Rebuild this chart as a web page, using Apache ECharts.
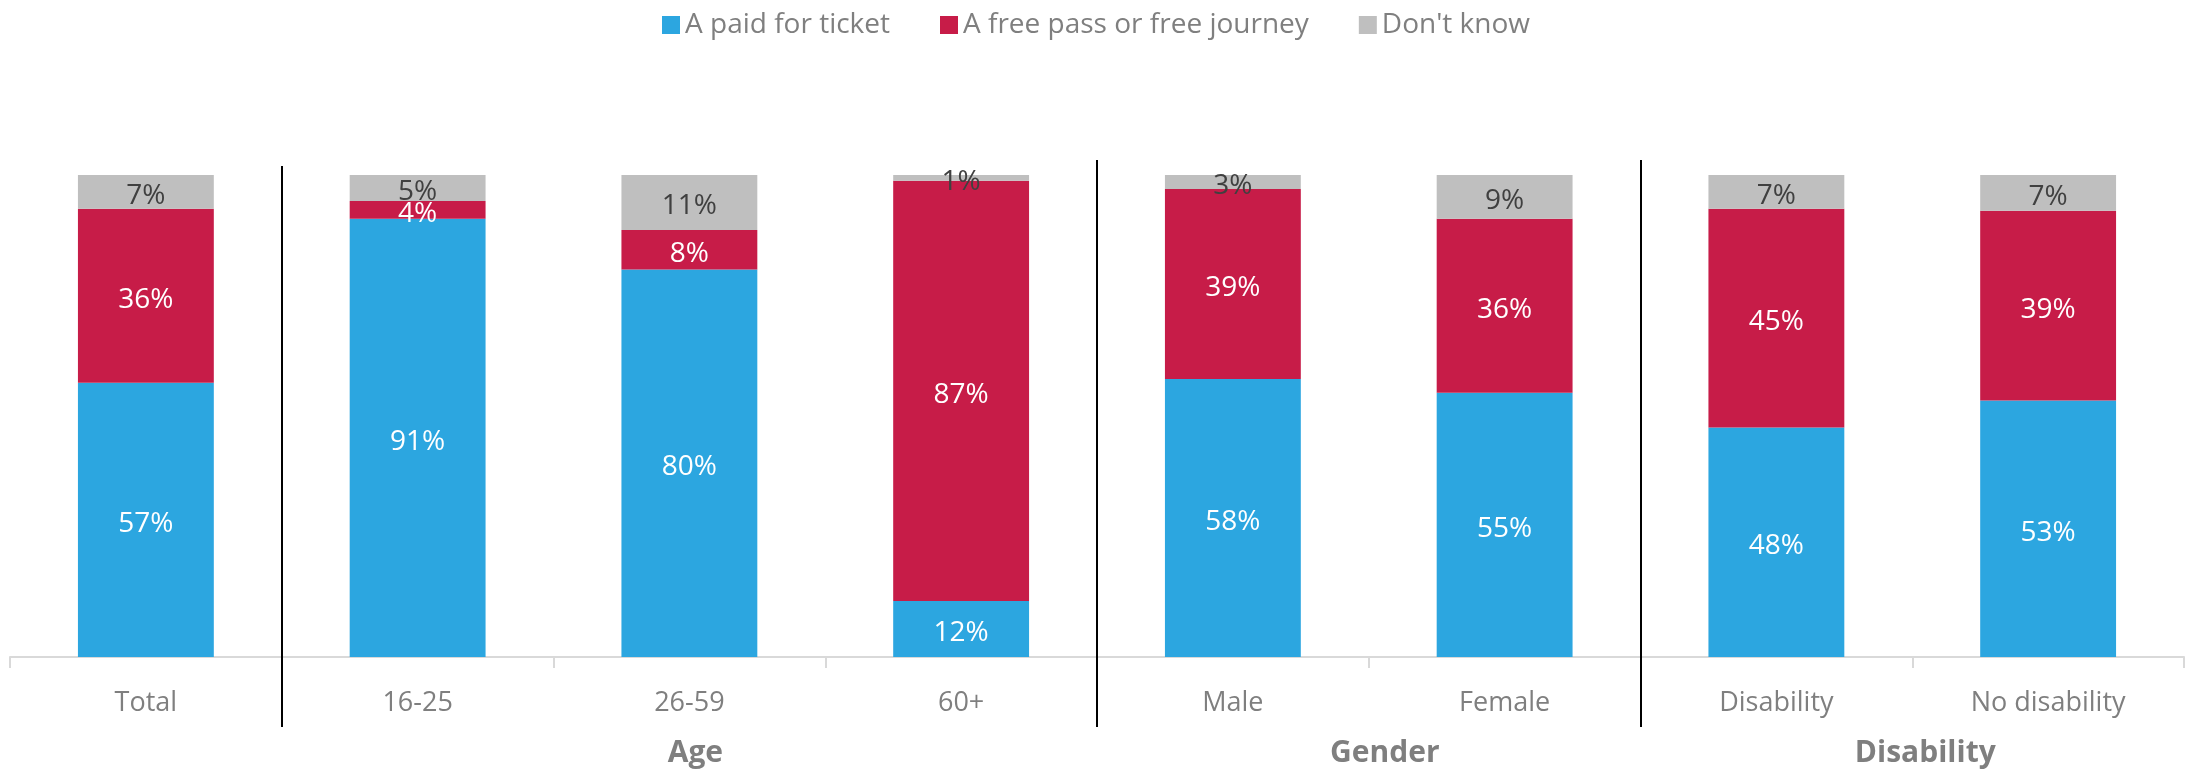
<!DOCTYPE html>
<html>
<head>
<meta charset="utf-8">
<script src="https://cdn.jsdelivr.net/npm/echarts@6/dist/echarts.min.js"></script>
<style>
  html, body { margin: 0; padding: 0; background: #ffffff; }
  #chart { width: 2192px; height: 769px; }
</style>
</head>
<body>
<div id="chart"></div>
<script>
// ---- Data ----
const categories = ['Total', '16-25', '26-59', '60+', 'Male', 'Female', 'Disability', 'No disability'];
const seriesNames = ['A paid for ticket', 'A free pass or free journey', "Don't know"];
const paidTicket = [56.9, 90.9, 80.4, 11.6, 57.7, 54.8, 47.6, 53.2];
const freePass   = [36.1,  3.7,  8.2, 87.2, 39.4, 36.1, 45.4, 39.4];
const dontKnow   = [ 7.0,  5.4, 11.4,  1.2,  2.9,  9.1,  7.0,  7.4];
// Groups: label, first category index, last category index
const groupLabels = ['Age', 'Gender', 'Disability'];
const groupStart  = [1, 4, 6];
const groupEnd    = [3, 5, 7];
// Separators between category index i and i+1
const separatorsAfter = [0, 3, 5];

// ---- Style ----
const FONT = '"Open Sans", "Noto Sans", sans-serif';
const colors = ['#2CA6E0', '#C71C48', '#BFBFBF'];
const labelColors = ['#FFFFFF', '#FFFFFF', '#404040'];
const groupLabelShift = [6, 16, 13];
const values = [paidTicket, freePass, dontKnow];

const chart = echarts.init(document.getElementById('chart'), null, { renderer: 'canvas' });

const option = {
  backgroundColor: '#ffffff',
  animation: false,
  legend: {
    top: 6,
    left: 'center',
    itemWidth: 18,
    itemHeight: 18,
    itemGap: 50,
    icon: 'rect',
    textStyle: { fontFamily: FONT, fontSize: 28, color: '#7F7F7F' },
    data: seriesNames
  },
  grid: { left: 10, right: 8, top: 175, bottom: 112 },
  xAxis: {
    type: 'category',
    data: categories,
    axisLine: { lineStyle: { color: '#D9D9D9', width: 2 } },
    axisTick: { show: true, length: 11, lineStyle: { color: '#D9D9D9', width: 2 } },
    axisLabel: { fontFamily: FONT, fontSize: 27, color: '#7F7F7F', margin: 33 }
  },
  yAxis: {
    type: 'value',
    min: 0,
    max: 100,
    show: false,
    splitLine: { show: false }
  },
  series: seriesNames.map((name, k) => ({
    name: name,
    type: 'bar',
    stack: 'total',
    barWidth: '50%',
    data: values[k],
    itemStyle: { color: colors[k] },
    label: {
      show: true,
      position: 'inside',
      offset: [0, 4],
      fontFamily: FONT,
      fontSize: 28,
      color: labelColors[k],
      formatter: p => Math.round(p.value) + '%'
    }
  }))
};

chart.setOption(option);

function addOverlays() {
  const xAt = i => chart.convertToPixel({ xAxisIndex: 0 }, i);
  const yTop = chart.convertToPixel({ yAxisIndex: 0 }, 100);
  const yBase = chart.convertToPixel({ yAxisIndex: 0 }, 0);
  const elements = [];
  separatorsAfter.forEach((i, n) => {
    const x = Math.round((xAt(i) + xAt(i + 1)) / 2);
    elements.push({
      type: 'line',
      shape: { x1: x, y1: yTop - (n === 0 ? 9 : 15), x2: x, y2: yBase + 70 },
      style: { stroke: '#000000', lineWidth: 2 },
      z: 10
    });
  });
  groupLabels.forEach((g, n) => {
    const cx = (xAt(groupStart[n]) + xAt(groupEnd[n])) / 2 + groupLabelShift[n];
    elements.push({
      type: 'text',
      x: cx,
      y: yBase + 96,
      style: {
        text: g,
        fontFamily: FONT,
        fontSize: 30,
        fontWeight: 'bold',
        fill: '#7F7F7F',
        align: 'center',
        verticalAlign: 'middle'
      },
      z: 10
    });
  });
  chart.setOption({ graphic: { elements: elements } });
}
addOverlays();
</script>
</body>
</html>
